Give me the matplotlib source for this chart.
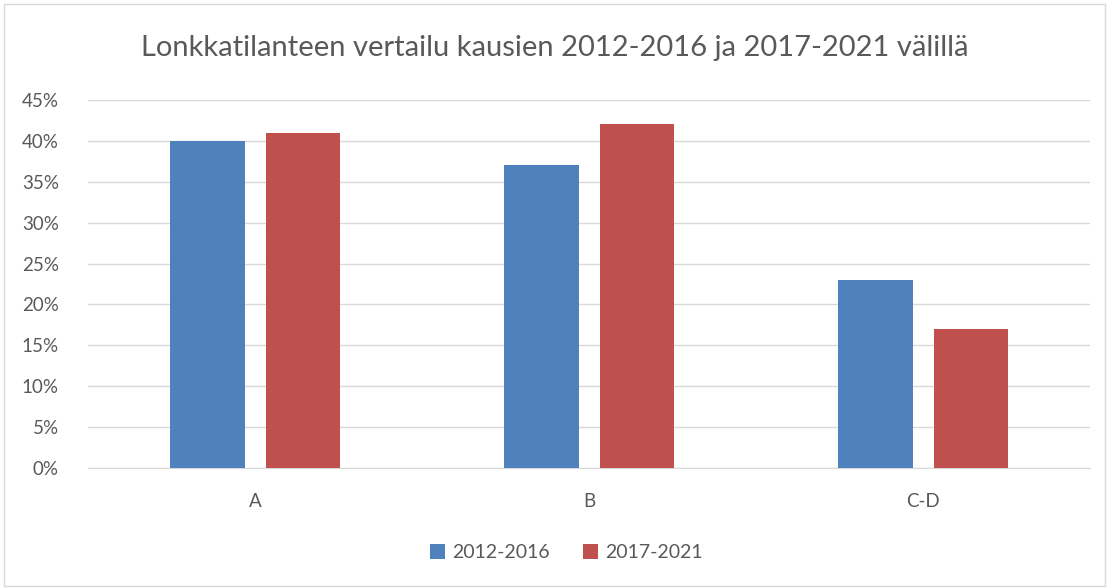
import matplotlib
matplotlib.use("Agg")
import matplotlib.pyplot as plt
import numpy as np
from matplotlib.patches import Rectangle
from matplotlib.ticker import PercentFormatter

categories = ["A", "B", "C-D"]
series_names = ["2012-2016", "2017-2021"]
values_2012_2016 = [0.40, 0.37, 0.23]
values_2017_2021 = [0.41, 0.42, 0.17]
colors = ["#4F81BD", "#C0504D"]

plt.rcParams['font.family'] = ['Lato', 'DejaVu Sans']
txt = "#595959"

fig = plt.figure(figsize=(11.09, 5.88), dpi=100)
fig.patches.append(Rectangle((0.004, 0.004), 0.992, 0.99, transform=fig.transFigure,
                             fill=False, edgecolor="#D9D9D9", linewidth=1))
ax = fig.add_axes([0.0794, 0.2041, 0.9035, 0.6259])

x = np.arange(len(categories))
w = 0.222
off = 0.1425
ax.bar(x - off, values_2012_2016, w, color=colors[0], label=series_names[0], zorder=3)
ax.bar(x + off, values_2017_2021, w, color=colors[1], label=series_names[1], zorder=3)

ax.set_xlim(-0.5, 2.5)
ax.set_ylim(0, 0.45)
ax.set_yticks(np.arange(0, 0.451, 0.05))
ax.yaxis.set_major_formatter(PercentFormatter(1.0, decimals=0))
ax.set_xticks(x)
ax.set_xticklabels(categories)
ax.grid(axis="y", color="#D9D9D9", linewidth=1, zorder=0)
for s in ["top", "right", "left"]:
    ax.spines[s].set_visible(False)
ax.spines["bottom"].set_color("#D9D9D9")
ax.tick_params(axis="both", length=0, labelsize=13.5, colors=txt)
ax.tick_params(axis="y", pad=21)
ax.tick_params(axis="x", pad=18)

fig.text(0.5, 0.918, "Lonkkatilanteen vertailu kausien 2012-2016 ja 2017-2021 välillä",
         ha="center", va="center", fontsize=21, color=txt)
fig.legend(loc="center", bbox_to_anchor=(0.511, 0.060), ncol=2, frameon=False,
           fontsize=14, labelcolor=txt, handlelength=0.75, handleheight=0.75,
           columnspacing=1.7, handletextpad=0.4)

fig.savefig("out.png", dpi=100, facecolor="white")
